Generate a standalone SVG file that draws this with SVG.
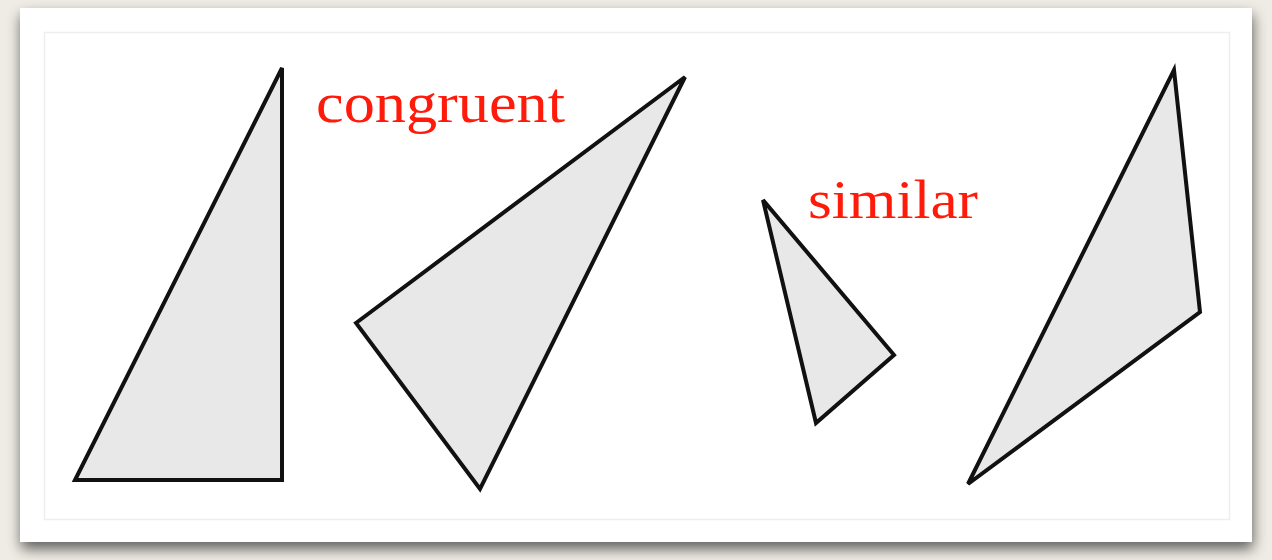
<svg xmlns="http://www.w3.org/2000/svg" width="1272" height="560" viewBox="0 0 1272 560">
<defs>
<filter id="sh" x="-5%" y="-5%" width="110%" height="115%">
<feGaussianBlur in="SourceAlpha" stdDeviation="7"/>
<feOffset dx="1" dy="7" result="b"/>
<feComponentTransfer><feFuncA type="linear" slope="0.6"/></feComponentTransfer>
<feMerge><feMergeNode/><feMergeNode in="SourceGraphic"/></feMerge>
</filter>
</defs>
<style>
.tri{fill:#e8e8e8;stroke:#111;stroke-width:4;stroke-linejoin:miter}
.lbl{font-family:"Liberation Serif","DejaVu Serif",serif;fill:#ff1a0a}
</style>
<rect width="1272" height="560" fill="#efece5"/>
<rect x="20" y="8" width="1232" height="534" fill="#ffffff" filter="url(#sh)"/>
<rect x="44.5" y="32.5" width="1185" height="487" fill="none" stroke="#eeeeee" stroke-width="1.5"/>
<g id="t1"><polygon class="tri" points="75,480 282,480 282,68"/></g>
<g id="t2"><polygon class="tri" points="356,323 685,77 480,489"/></g>
<g id="t3"><polygon class="tri" points="763,200 894,355 816,423"/></g>
<g id="t4"><polygon class="tri" points="1174,70 1200,312 968,484"/></g>
<g id="labels">
<text class="lbl" x="316" y="122" font-size="56" textLength="249" lengthAdjust="spacingAndGlyphs">congruent</text>
<text class="lbl" x="808" y="218" font-size="54" textLength="170" lengthAdjust="spacingAndGlyphs">similar</text>
</g>
</svg>
